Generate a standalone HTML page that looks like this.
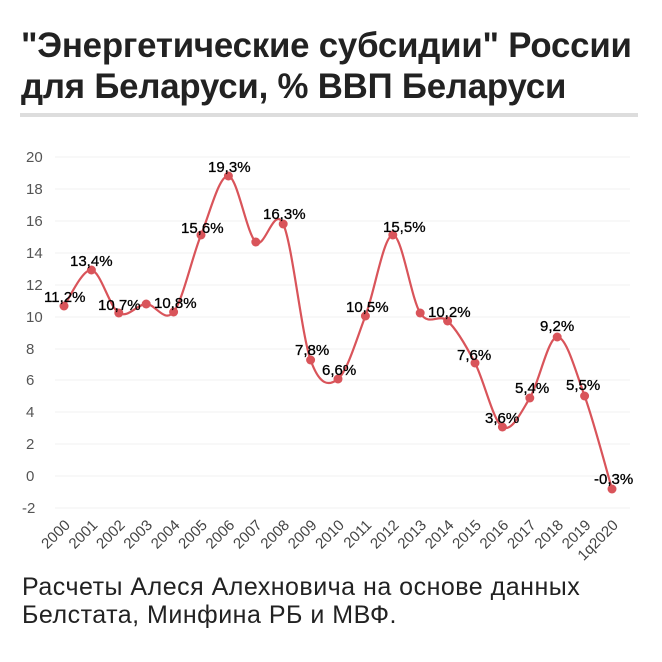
<!DOCTYPE html>
<html><head><meta charset="utf-8"><style>
body{margin:0;background:#fff;width:662px;height:662px;overflow:hidden;font-family:"Liberation Sans",sans-serif}
.t{position:absolute;left:21px;top:25px;font-size:34.8px;font-weight:bold;color:#222;line-height:41px;letter-spacing:-0.2px}
.r{position:absolute;left:20px;top:113px;width:618px;height:4px;background:#ddd}
.f{position:absolute;left:22px;top:573px;font-size:25px;color:#222;line-height:28px;letter-spacing:0.5px}
</style></head><body>
<div class="t">"Энергетические субсидии" России<br>для Беларуси, % ВВП Беларуси</div>
<div class="r"></div>
<svg style="position:absolute;left:0;top:0" width="662" height="662" font-family="Liberation Sans, sans-serif">
<g stroke="#f2f2f2" stroke-width="1">
<line x1="55" x2="630" y1="157" y2="157"/><line x1="55" x2="630" y1="189" y2="189"/><line x1="55" x2="630" y1="221" y2="221"/><line x1="55" x2="630" y1="253" y2="253"/><line x1="55" x2="630" y1="285" y2="285"/><line x1="55" x2="630" y1="317" y2="317"/><line x1="55" x2="630" y1="349" y2="349"/><line x1="55" x2="630" y1="380" y2="380"/><line x1="55" x2="630" y1="412" y2="412"/><line x1="55" x2="630" y1="444" y2="444"/><line x1="55" x2="630" y1="476" y2="476"/><line x1="55" x2="630" y1="508" y2="508"/>
</g>
<g font-size="15" fill="#555">
<text x="26" y="162">20</text><text x="26" y="194">18</text><text x="26" y="226">16</text><text x="26" y="258">14</text><text x="26" y="290">12</text><text x="26" y="322">10</text><text x="26" y="354">8</text><text x="26" y="385">6</text><text x="26" y="417">4</text><text x="26" y="449">2</text><text x="26" y="481">0</text><text x="22" y="513">-2</text>
</g>
<path id="ln" fill="none" stroke="#d9545a" stroke-width="2.2"/>
<g id="pts" fill="#d9545a"></g>
<g font-size="15" fill="#000" stroke="#000" stroke-width="0.3">
<text x="44" y="302">11,2%</text><text x="70" y="266">13,4%</text><text x="98" y="310">10,7%</text><text x="154" y="308">10,8%</text><text x="181" y="233">15,6%</text><text x="208" y="172">19,3%</text><text x="263" y="219">16,3%</text><text x="295" y="355">7,8%</text><text x="322" y="375">6,6%</text><text x="346" y="312">10,5%</text><text x="383" y="232">15,5%</text><text x="428" y="317">10,2%</text><text x="457" y="360">7,6%</text><text x="485" y="423">3,6%</text><text x="515" y="393">5,4%</text><text x="540" y="331">9,2%</text><text x="566" y="390">5,5%</text><text x="594" y="484">-0,3%</text>
</g>
<g font-size="15" fill="#444" id="xl"></g>
</svg>
<div class="f">Расчеты Алеся Алехновича на основе данных<br>Белстата, Минфина РБ и МВФ.</div>
<script>
var ys=[306,270,313,304,312,235,176,242,224,360,379,316,235,313,321,363,427,398,337,396,489];
var P=ys.map(function(y,i){return[64+27.4*i,y]});
var d="M"+P[0][0]+","+P[0][1];
for(var i=0;i<P.length-1;i++){var p0=P[i-1]||P[i],p1=P[i],p2=P[i+1],p3=P[i+2]||p2;
d+=" C"+(p1[0]+(p2[0]-p0[0])/6)+","+(p1[1]+(p2[1]-p0[1])/6)+" "+(p2[0]-(p3[0]-p1[0])/6)+","+(p2[1]-(p3[1]-p1[1])/6)+" "+p2[0]+","+p2[1];}
document.getElementById("ln").setAttribute("d",d);
var ns="http://www.w3.org/2000/svg",g=document.getElementById("pts"),xl=document.getElementById("xl");
P.forEach(function(p,i){var c=document.createElementNS(ns,"circle");c.setAttribute("cx",p[0]);c.setAttribute("cy",p[1]);c.setAttribute("r",4.5);g.appendChild(c);
var t=document.createElementNS(ns,"text");t.setAttribute("text-anchor","end");t.setAttribute("transform","translate("+(p[0]+7)+",526) rotate(-45)");t.textContent=i<20?String(2000+i):"1q2020";xl.appendChild(t);});
</script>
</body></html>
